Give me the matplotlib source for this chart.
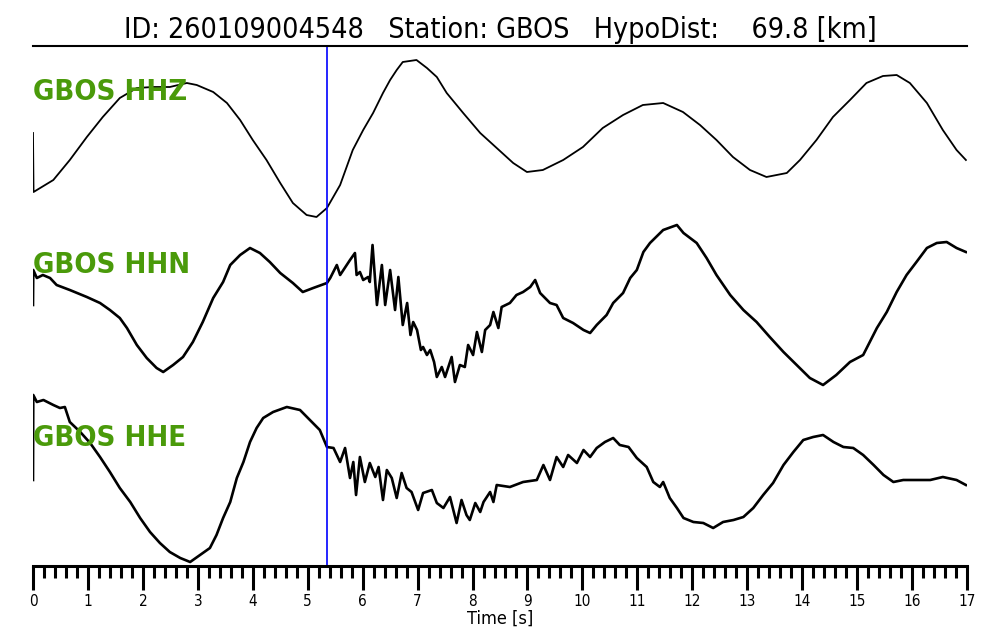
import matplotlib
matplotlib.use("Agg")
import matplotlib.pyplot as plt
import numpy as np

title_text = "ID: 260109004548   Station: GBOS   HypoDist:    69.8 [km]"
station = "GBOS"
channels = ["HHZ", "HHN", "HHE"]
pick_time = 5.35

# HHZ trace (time [s], amplitude [arb.])
hhz_t = [0.0, 0.01, 0.07, 0.37, 0.67, 0.98, 1.27, 1.58, 1.89, 2.18, 2.49, 2.80, 2.98, 3.28, 3.53,
         3.77, 4.00, 4.25, 4.50, 4.73, 4.98, 5.16, 5.35, 5.59, 5.82, 6.01, 6.19, 6.37, 6.50, 6.62,
         6.73, 6.98, 7.17, 7.35, 7.53, 7.83, 8.14, 8.44, 8.74, 8.99, 9.28, 9.65, 10.01, 10.37,
         10.74, 11.10, 11.47, 11.83, 12.14, 12.44, 12.74, 13.05, 13.35, 13.72, 13.96, 14.26,
         14.56, 14.87, 15.17, 15.47, 15.72, 15.96, 16.27, 16.56, 16.81, 16.98]
hhz_a = [7, -52, -50, -40, -20, 3, 23, 42, 52, 53, 53, 57, 55, 48, 37,
         20, 0, -20, -43, -63, -75, -77, -68, -45, -10, 10, 27, 47, 60, 70,
         78, 80, 72, 63, 47, 27, 7, -8, -23, -32, -30, -20, -7, 12,
         25, 35, 37, 28, 15, 0, -17, -30, -37, -33, -20, 0,
         23, 40, 57, 64, 65, 57, 37, 10, -10, -20]

# HHN trace
hhn_t = [0.0, 0.005, 0.07, 0.18, 0.31, 0.43, 0.67, 0.98, 1.22, 1.40, 1.58, 1.71, 1.89, 2.07, 2.25,
         2.37, 2.55, 2.73, 2.91, 3.09, 3.28, 3.46, 3.59, 3.77, 3.95, 4.13, 4.31, 4.50, 4.73,
         4.91, 5.10, 5.35, 5.41, 5.53, 5.59, 5.71, 5.77, 5.86, 5.89, 5.95, 6.01, 6.10, 6.13,
         6.18, 6.26, 6.35, 6.41, 6.50, 6.59, 6.65, 6.73, 6.81, 6.87, 6.92, 6.99, 7.06, 7.10,
         7.17, 7.23, 7.30, 7.35, 7.44, 7.50, 7.62, 7.68, 7.77, 7.86, 7.92, 8.01, 8.08, 8.17,
         8.23, 8.32, 8.38, 8.47, 8.53, 8.68, 8.80, 8.92, 9.05, 9.14, 9.23, 9.41, 9.53, 9.65,
         9.83, 10.02, 10.14, 10.26, 10.44, 10.56, 10.74, 10.87, 10.99, 11.11, 11.23, 11.47,
         11.72, 11.84, 12.08, 12.26, 12.44, 12.69, 12.93, 13.17, 13.41, 13.66, 13.90, 14.14,
         14.38, 14.62, 14.87, 15.11, 15.36, 15.54, 15.72, 15.90, 16.08, 16.27, 16.45, 16.63,
         16.81, 16.98]
hhn_a = [-5, 30, 22, 25, 22, 15, 10, 3, -3, -10, -18, -28, -45, -58, -68,
         -72, -65, -57, -42, -22, 2, 18, 35, 45, 52, 47, 38, 27, 17,
         8, 12, 17, 22, 35, 25, 35, 40, 47, 25, 28, 20, 23, 18,
         55, -5, 35, -5, 30, -10, 23, -25, -3, -35, -22, -30, -50, -47,
         -55, -50, -62, -77, -67, -77, -57, -82, -65, -67, -45, -55, -32, -52,
         -30, -25, -12, -28, -7, -3, 5, 8, 13, 20, 7, -3, -5, -18,
         -23, -30, -33, -25, -15, -3, 7, 22, 30, 48, 57, 70,
         75, 67, 57, 42, 25, 5, -10, -22, -37, -52, -65, -78,
         -85, -75, -62, -55, -28, -12, 8, 25, 38, 52, 57, 58,
         52, 48]

# HHE trace
hhe_t = [0.0, 0.005, 0.07, 0.19, 0.37, 0.49, 0.58, 0.67, 0.86, 1.04, 1.22, 1.40, 1.58, 1.77, 1.95,
         2.13, 2.31, 2.49, 2.68, 2.86, 3.04, 3.22, 3.34, 3.46, 3.59, 3.71, 3.83, 3.95, 4.07,
         4.19, 4.37, 4.62, 4.86, 5.04, 5.22, 5.35, 5.47, 5.59, 5.68, 5.77, 5.83, 5.88, 5.95,
         6.04, 6.13, 6.23, 6.29, 6.37, 6.44, 6.53, 6.62, 6.71, 6.80, 6.89, 7.01, 7.10, 7.26,
         7.35, 7.47, 7.59, 7.71, 7.80, 7.89, 7.95, 8.05, 8.14, 8.20, 8.32, 8.38, 8.44, 8.68,
         8.92, 9.17, 9.29, 9.41, 9.53, 9.65, 9.74, 9.90, 10.02, 10.14, 10.26, 10.41, 10.56,
         10.68, 10.84, 10.99, 11.17, 11.29, 11.41, 11.47, 11.59, 11.72, 11.84, 12.02, 12.20,
         12.38, 12.56, 12.75, 12.93, 13.11, 13.29, 13.47, 13.66, 13.84, 14.02, 14.20, 14.38,
         14.57, 14.75, 14.93, 15.11, 15.30, 15.48, 15.66, 15.84, 16.08, 16.33, 16.56, 16.81,
         16.98]
hhe_a = [0, 85, 78, 80, 75, 72, 73, 58, 48, 37, 23, 8, -8, -22, -38,
         -52, -63, -72, -78, -82, -75, -68, -55, -38, -22, 2, 18, 38, 52,
         62, 68, 73, 70, 60, 50, 33, 32, 18, 32, 2, 18, -15, 23,
         -2, 17, 3, 13, -20, 10, 2, -18, 7, -8, -12, -30, -13, -10,
         -23, -28, -17, -43, -20, -35, -40, -23, -32, -22, -12, -22, -5, -7,
         -2, 0, 15, 0, 23, 13, 25, 17, 30, 23, 32, 38, 42,
         35, 33, 22, 13, -2, -7, -2, -18, -28, -38, -42, -43,
         -48, -42, -40, -37, -28, -15, -3, 15, 28, 40, 43, 45,
         38, 33, 32, 25, 15, 5, -2, 0, 0, 0, 3, 0,
         -5]

plt.rcParams["font.family"] = ["DejaVu Sans"]
plt.rcParams["font.stretch"] = "condensed"

traces = [(hhz_t, hhz_a, 1.3), (hhn_t, hhn_a, 1.9), (hhe_t, hhe_a, 1.9)]
offsets = [426, 266, 86]
label_y = [474, 301, 128]

fig = plt.figure(figsize=(10, 6.4), dpi=100)
ax = fig.add_axes([0.033, 1 - 566 / 640, 0.934, 520 / 640])

for (t, a, lw), off in zip(traces, offsets):
    ax.plot(t, np.asarray(a) + off, color="black", lw=lw, solid_joinstyle="round")

for ch, ly in zip(channels, label_y):
    ax.text(0.0, ly, f"{station} {ch}", color="#4a9a0a", fontsize=21, fontweight="bold",
            ha="left", va="center", zorder=5)

ax.axvline(pick_time, color="blue", lw=1.2)

ax.set_xlim(0, 17)
ax.set_ylim(0, 520)
ax.set_yticks([])
for s in ["left", "right"]:
    ax.spines[s].set_visible(False)
ax.spines["bottom"].set_linewidth(2.2)
ax.spines["top"].set_linewidth(1.5)
ax.set_xticks(np.arange(0, 18, 1))
ax.set_xticks(np.arange(0, 17.01, 0.2), minor=True)
ax.tick_params(axis="x", which="major", length=17, width=2.2, labelsize=11, pad=3)
ax.tick_params(axis="x", which="minor", length=8.5, width=2.2)
ax.set_xlabel("Time [s]", fontsize=13, labelpad=1)
ax.set_title(title_text, fontsize=20.5, pad=6)

fig.savefig("out.png", dpi=100)
